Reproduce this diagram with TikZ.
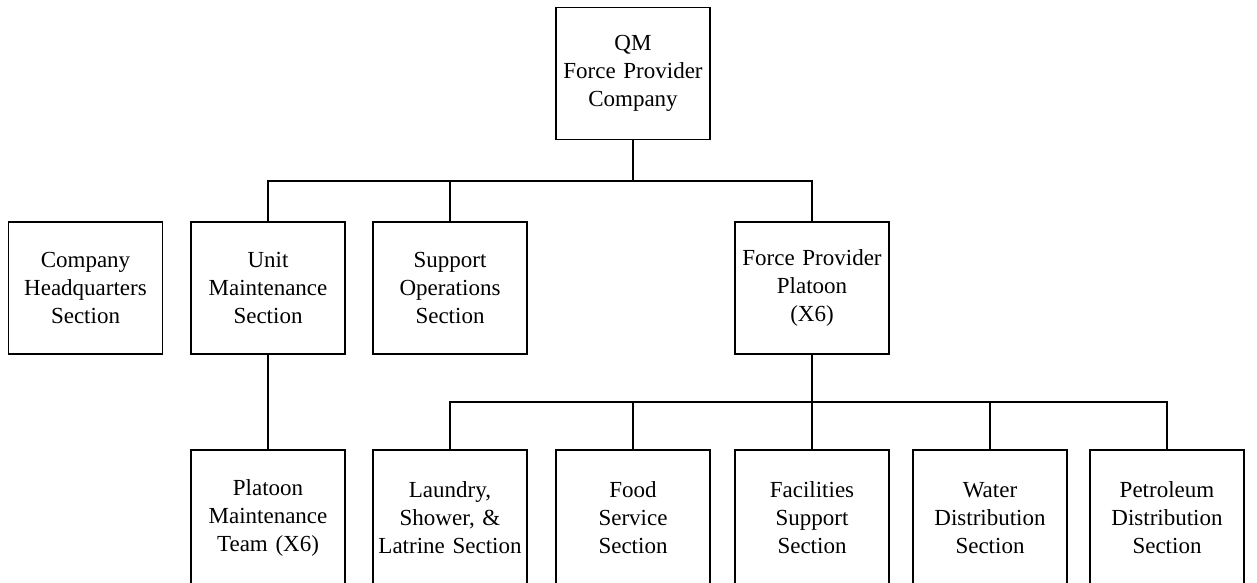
\documentclass[tikz,border=0pt]{standalone}
\usepackage{fontspec}
\setmainfont[WordSpace=0.75]{Liberation Serif}
\begin{document}
\begin{tikzpicture}[x=1pt,y=-1pt,
  box/.style={draw=black, line width=1.7pt, minimum width=154pt, minimum height=132pt,
    inner sep=0pt, align=center, text width=152pt,
    font=\fontsize{23}{28}\selectfont},
  lowbox/.style={box, minimum height=136pt},
  conn/.style={draw=black, line width=1.4pt}]
\useasboundingbox (0,0) rectangle (1257,582);
\fill[white] (0,0) rectangle (1257,582);
% top
\node[box] (top) at (633,73.5) {QM\\Force Provider\\Company};
% second row
\node[box] (hq) at (85.5,288) {Company\\Headquarters\\Section};
\node[box] (um) at (268,288) {Unit\\Maintenance\\Section};
\node[box] (so) at (450,288) {Support\\Operations\\Section};
\node[box] (fpp) at (812,288) {Force Provider\\Platoon\\(X6)};
% third row
\node[lowbox] (pmt) at (268,518) {Platoon\\Maintenance\\Team (X6)};
\node[lowbox] (lsl) at (450,518) {Laundry,\\Shower, \&\\Latrine Section};
\node[lowbox] (fss) at (633,518) {Food\\Service\\Section};
\node[lowbox] (fac) at (812,518) {Facilities\\Support\\Section};
\node[lowbox] (wds) at (990,518) {Water\\Distribution\\Section};
\node[lowbox] (pds) at (1167,518) {Petroleum\\Distribution\\Section};
% connectors
\coordinate (bar1) at (633,181);
\coordinate (bar2) at (812,402);
\draw[conn] (top.south) -- (bar1);
\draw[conn] (um.north) |- (bar1) -| (fpp.north);
\draw[conn] (so.north) -- (so.north |- bar1);
\draw[conn] (um.south) -- (pmt.north);
\draw[conn, line width=2.2pt] (fpp.south) -- (bar2);
\draw[conn] (lsl.north) |- (bar2) -| (pds.north);
\draw[conn] (fss.north) -- (fss.north |- bar2);
\draw[conn] (fac.north) -- (fac.north |- bar2);
\draw[conn] (wds.north) -- (wds.north |- bar2);
\end{tikzpicture}
\end{document}
